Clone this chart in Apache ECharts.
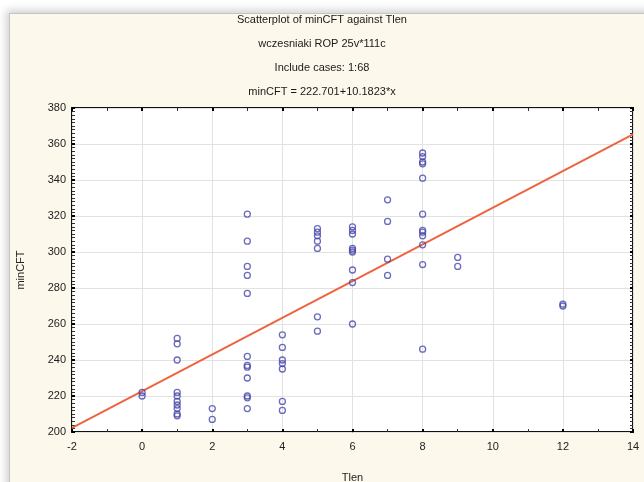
<!DOCTYPE html>
<html>
<head>
<meta charset="utf-8">
<script src="https://cdn.jsdelivr.net/npm/echarts@6/dist/echarts.min.js"></script>
<style>
    body { margin: 0; background: #fff; }
    #panel {
        position: absolute; left: 9px; top: 13px; width: 700px; height: 520px;
        background: #fdf8ec; border: 1px solid #c4c4c4;
        box-shadow: -3px -3px 8px rgba(0, 0, 0, 0.18);
    }
    #main { position: absolute; left: 0; top: 0; width: 644px; height: 482px; }
</style>
</head>
<body>
<div id="panel"></div>
<div id="main"></div>
<script>
// Tlen / minCFT pairs
const tlen = [
    0, 0,
    1, 1, 1, 1, 1, 1, 1, 1, 1, 1,
    2, 2,
    3, 3, 3, 3, 3, 3, 3, 3, 3, 3, 3, 3,
    4, 4, 4, 4, 4, 4, 4,
    5, 5, 5, 5, 5, 5, 5,
    6, 6, 6, 6, 6, 6, 6, 6, 6,
    7, 7, 7, 7,
    8, 8, 8, 8, 8, 8, 8, 8, 8, 8, 8, 8,
    9, 9,
    12, 12
];
const mincft = [
    222, 220,
    252, 249, 240, 222, 220, 217, 215, 213, 210, 209,
    213, 207,
    321, 306, 292, 287, 277, 242, 237, 236, 230, 220, 219, 213,
    254, 247, 240, 238, 235, 217, 212,
    313, 311, 309, 306, 302, 264, 256,
    314, 312, 310, 302, 301, 300, 290, 283, 260,
    329, 317, 296, 287,
    355, 353, 350, 349, 341, 321, 312, 311, 309, 304, 293, 246,
    297, 292,
    270, 271
];
// fitted line ends (minCFT = 222.701+10.1823*x)
const fitX = [-2, 14];
const fitY = [202.3, 365.3];

const titles = [
    'Scatterplot of minCFT against Tlen',
    'wczesniaki ROP 25v*111c',
    'Include cases: 1:68',
    'minCFT = 222.701+10.1823*x'
];

const font = 'Arial, "Liberation Sans", sans-serif';
const chart = echarts.init(document.getElementById('main'));

const xBase = {
    type: 'value', min: -2, max: 14, interval: 2,
    axisLine: { show: false, onZero: false },
    axisTick: { show: true, inside: true, length: 3, lineStyle: { color: '#000', width: 2 } },
    minorTick: { show: true, splitNumber: 2, length: 3, lineStyle: { color: '#333' } }
};
const yBase = {
    type: 'value', min: 200, max: 380, interval: 20,
    axisLine: { show: false, onZero: false },
    axisTick: { show: true, inside: true, length: 3, lineStyle: { color: '#000', width: 2 } },
    minorTick: { show: true, splitNumber: 10, length: 3, lineStyle: { color: '#333' } }
};

const option = {
    animation: false,
    backgroundColor: 'transparent',
    title: titles.map((t, i) => ({
        text: t,
        left: 'center',
        top: 14 + i * 24,
        padding: 0,
        textStyle: { fontFamily: font, fontSize: 11, fontWeight: 'normal', color: '#1a1a1a' }
    })),
    grid: {
        left: 72, top: 108, width: 561, height: 324,
        outerBoundsMode: 'none', containLabel: false,
        show: true, backgroundColor: '#fff', borderColor: '#111', borderWidth: 2
    },
    xAxis: [
        Object.assign({}, xBase, {
            position: 'bottom',
            name: 'Tlen', nameLocation: 'middle', nameGap: 40,
            nameTextStyle: { fontFamily: font, fontSize: 11, color: '#222' },
            axisLabel: { margin: 9, fontFamily: font, fontSize: 11, color: '#222' },
            splitLine: { show: true, lineStyle: { color: '#e2e2e2' } }
        }),
        Object.assign({}, xBase, {
            position: 'top',
            axisLabel: { show: false },
            splitLine: { show: false }
        })
    ],
    yAxis: [
        Object.assign({}, yBase, {
            position: 'left',
            name: 'minCFT', nameLocation: 'middle', nameGap: 46,
            nameTextStyle: { fontFamily: font, fontSize: 11, color: '#222' },
            axisLabel: { margin: 6, fontFamily: font, fontSize: 11, color: '#222' },
            splitLine: { show: true, lineStyle: { color: '#e2e2e2' } }
        }),
        Object.assign({}, yBase, {
            position: 'right',
            axisLabel: { show: false },
            splitLine: { show: false }
        })
    ],
    series: [
        {
            type: 'line',
            data: fitX.map((x, i) => [x, fitY[i]]),
            symbol: 'none',
            lineStyle: { color: '#ee6440', width: 2 },
            z: 2
        },
        {
            type: 'scatter',
            data: tlen.map((x, i) => [x, mincft[i]]),
            symbol: 'circle',
            symbolSize: 6,
            itemStyle: { color: 'rgba(255,255,255,0)', borderColor: '#4646aa', borderWidth: 1.3 },
            z: 3
        }
    ]
};
chart.setOption(option);
</script>
</body>
</html>
